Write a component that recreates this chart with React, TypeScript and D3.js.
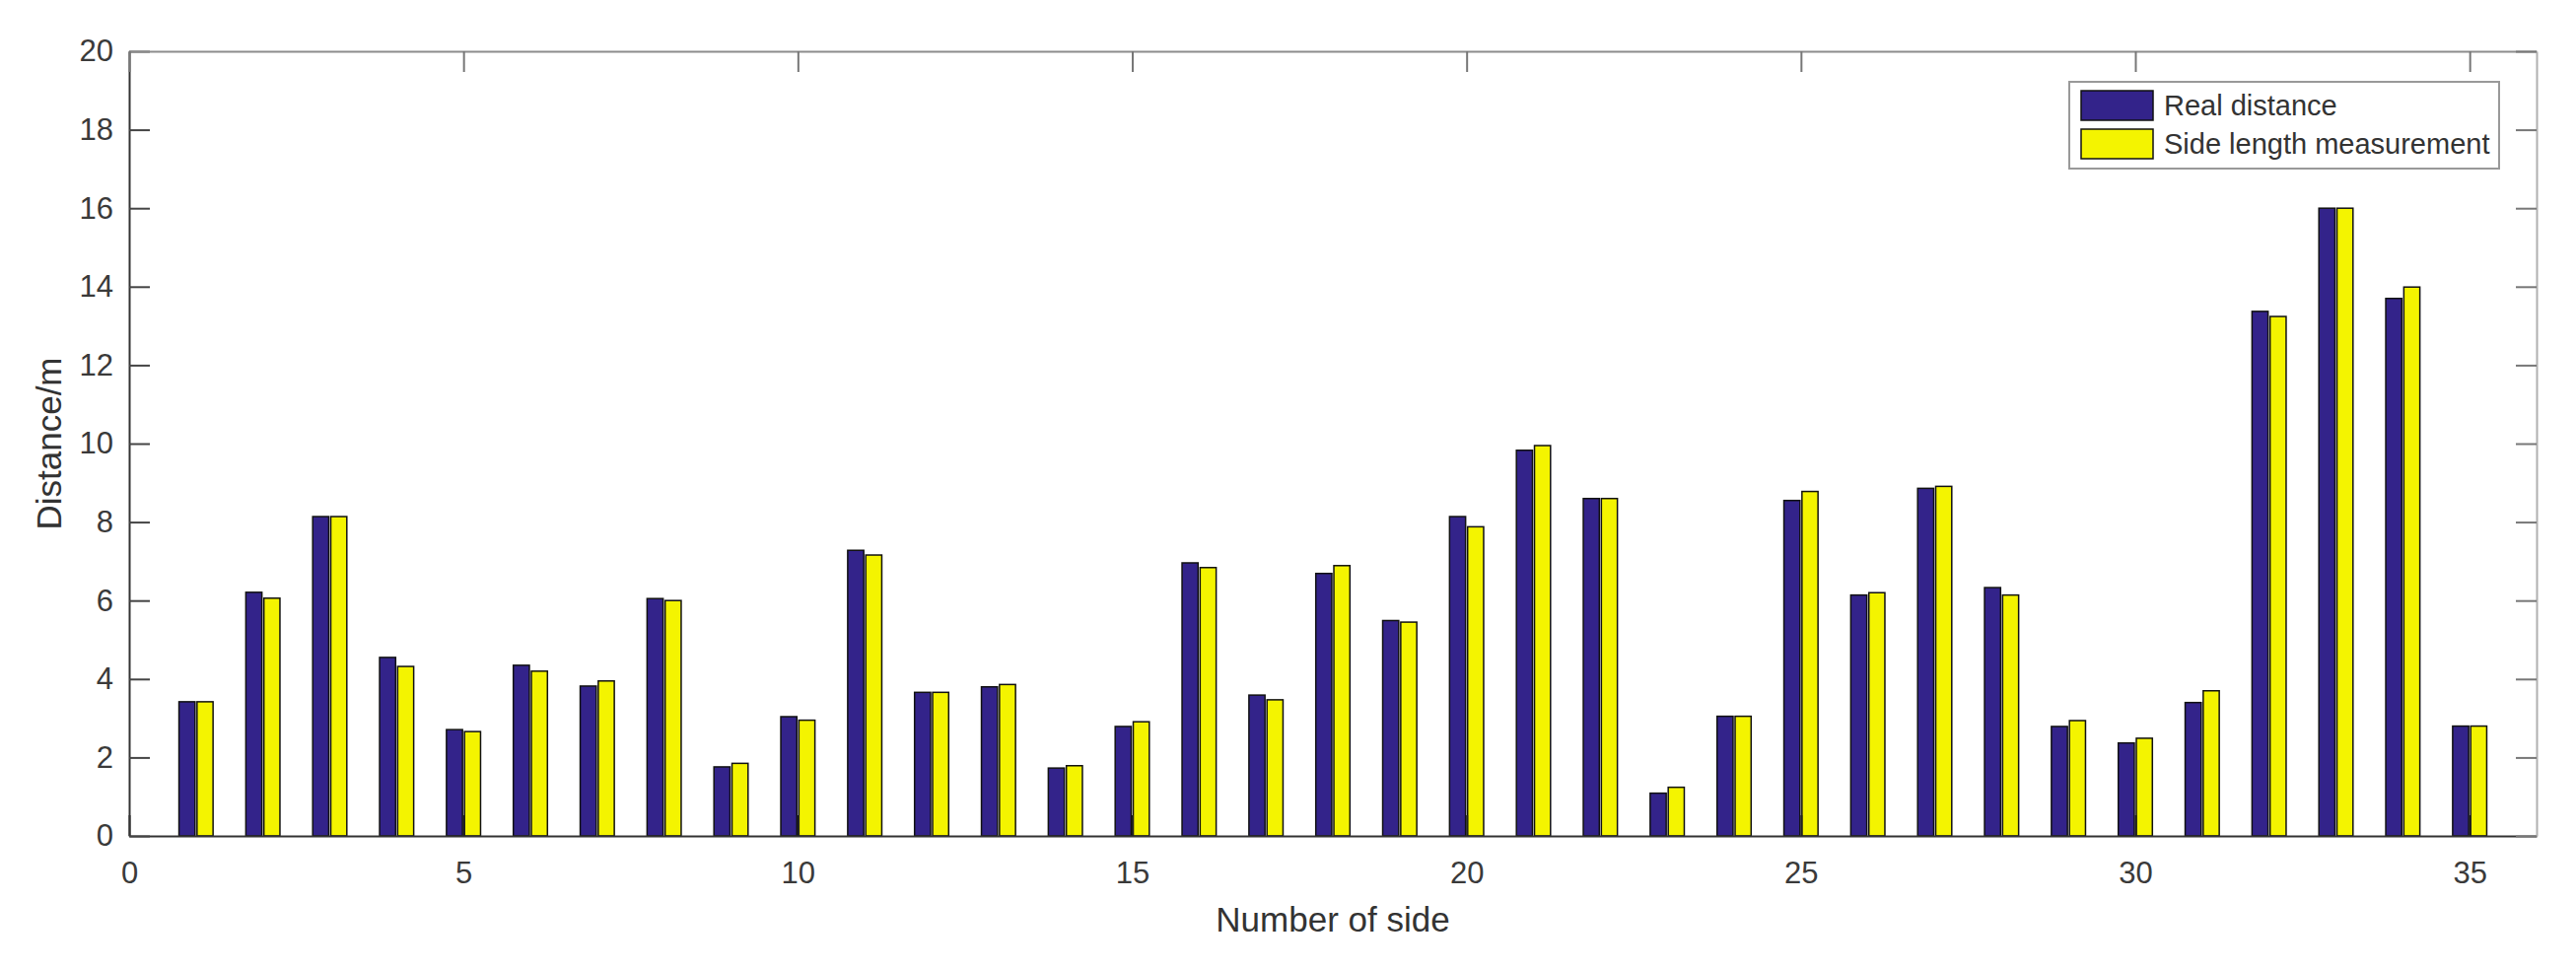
import React, { useEffect, useRef } from 'react';
import * as d3 from 'd3';

// side index 1..35
const sides = d3.range(1, 36);
const realDistance = [
  3.42, 6.21, 8.14, 4.55, 2.71, 4.35, 3.82, 6.05, 1.76, 3.04,
  7.28, 3.66, 3.8, 1.73, 2.79, 6.96, 3.59, 6.69, 5.49, 8.14,
  9.83, 8.6, 1.09, 3.05, 8.55, 6.14, 8.86, 6.33, 2.79, 2.37,
  3.4, 13.37, 16.0, 13.7, 2.8,
];
const sideMeasurement = [
  3.42, 6.06, 8.14, 4.32, 2.66, 4.2, 3.95, 6.0, 1.85, 2.95,
  7.16, 3.66, 3.86, 1.79, 2.91, 6.84, 3.47, 6.89, 5.45, 7.88,
  9.95, 8.6, 1.24, 3.05, 8.78, 6.2, 8.91, 6.14, 2.94, 2.49,
  3.7, 13.24, 16.0, 13.99, 2.8,
];
const seriesNames = ['Real distance', 'Side length measurement'];
const seriesColors = ['#33238a', '#f4f400'];
const xTicks = [0, 5, 10, 15, 20, 25, 30, 35];
const yTicks = [0, 2, 4, 6, 8, 10, 12, 14, 16, 18, 20];

const W = 2613;
const H = 984;
const FONT = '"Liberation Sans", Arial, Helvetica, sans-serif';

const App = () => {
  const svgRef = useRef<SVGSVGElement>(null);

  useEffect(() => {
    document.body.style.margin = '0';
    document.body.style.overflow = 'hidden';

    const svg = d3.select(svgRef.current);
    svg.selectAll('*').remove();

    const left = 131, right = 2573, top = 52, bottom = 848;
    const x = d3.scaleLinear().domain([0, 36]).range([left, right]);
    const y = d3.scaleLinear().domain([0, 20]).range([bottom, top]);

    svg.append('rect').attr('width', W).attr('height', H).attr('fill', '#fff');

    // bars (grouped, two per side)
    const barW = 0.24;
    const offsets = [-0.255, 0.015];
    const series = [realDistance, sideMeasurement];
    series.forEach((vals, s) => {
      svg.append('g')
        .selectAll('rect')
        .data(sides)
        .enter().append('rect')
        .attr('x', d => x(d + offsets[s]))
        .attr('y', (d, i) => y(vals[i]))
        .attr('width', x(barW) - x(0))
        .attr('height', (d, i) => y(0) - y(vals[i]))
        .attr('fill', seriesColors[s])
        .attr('stroke', '#111')
        .attr('stroke-width', 1.5);
    });

    const tickLen = 21;

    // bottom axis
    const gx = svg.append('g')
      .attr('transform', `translate(0,${bottom})`)
      .call(d3.axisBottom(x).tickValues(xTicks).tickSizeInner(-tickLen).tickSizeOuter(0).tickPadding(26));
    gx.select('.domain').attr('stroke', '#333').attr('stroke-width', 2);
    gx.selectAll('.tick line').attr('stroke', '#222').attr('stroke-width', 2);
    gx.selectAll('.tick text')
      .attr('font-family', FONT).attr('font-size', 31).attr('fill', '#3a3a3a');

    // left axis
    const gy = svg.append('g')
      .attr('transform', `translate(${left},0)`)
      .call(d3.axisLeft(y).tickValues(yTicks).tickSizeInner(-tickLen).tickSizeOuter(0).tickPadding(16));
    gy.select('.domain').attr('stroke', '#333').attr('stroke-width', 2);
    gy.selectAll('.tick line').attr('stroke', '#444').attr('stroke-width', 2);
    gy.selectAll('.tick text')
      .attr('font-family', FONT).attr('font-size', 31).attr('fill', '#3a3a3a');

    // top axis (box)
    const gt = svg.append('g')
      .attr('transform', `translate(0,${top})`)
      .call(d3.axisTop(x).tickValues(xTicks).tickSizeInner(-tickLen).tickSizeOuter(0).tickFormat(() => ''));
    gt.select('.domain').attr('stroke', '#8c8c8c').attr('stroke-width', 2);
    gt.selectAll('.tick line').attr('stroke', '#777').attr('stroke-width', 2);

    // right axis (box)
    const gr = svg.append('g')
      .attr('transform', `translate(${right},0)`)
      .call(d3.axisRight(y).tickValues(yTicks).tickSizeInner(-tickLen).tickSizeOuter(0).tickFormat(() => ''));
    gr.select('.domain').attr('stroke', '#b0b0b0').attr('stroke-width', 2);
    gr.selectAll('.tick line').attr('stroke', '#777').attr('stroke-width', 2);

    // axis labels
    svg.append('text')
      .attr('x', (left + right) / 2)
      .attr('y', 945)
      .attr('text-anchor', 'middle')
      .attr('font-family', FONT).attr('font-size', 35).attr('fill', '#333')
      .text('Number of side');

    svg.append('text')
      .attr('transform', `translate(62,${(top + bottom) / 2}) rotate(-90)`)
      .attr('text-anchor', 'middle')
      .attr('font-family', FONT).attr('font-size', 35).attr('fill', '#333')
      .text('Distance/m');

    // legend
    const lg = svg.append('g').attr('transform', 'translate(2099,83)');
    lg.append('rect')
      .attr('width', 436).attr('height', 88)
      .attr('fill', '#fff').attr('stroke', '#999').attr('stroke-width', 2);
    seriesNames.forEach((name, i) => {
      const ry = 9 + i * 39;
      lg.append('rect')
        .attr('x', 12).attr('y', ry)
        .attr('width', 73).attr('height', 30)
        .attr('fill', seriesColors[i])
        .attr('stroke', '#111').attr('stroke-width', 1.5);
      lg.append('text')
        .attr('x', 96).attr('y', ry + 15)
        .attr('dy', '0.35em')
        .attr('font-family', FONT).attr('font-size', 29).attr('fill', '#333')
        .text(name);
    });
  }, []);

  return <svg ref={svgRef} width={W} height={H} style={{ display: 'block' }} />;
};

export default App;
